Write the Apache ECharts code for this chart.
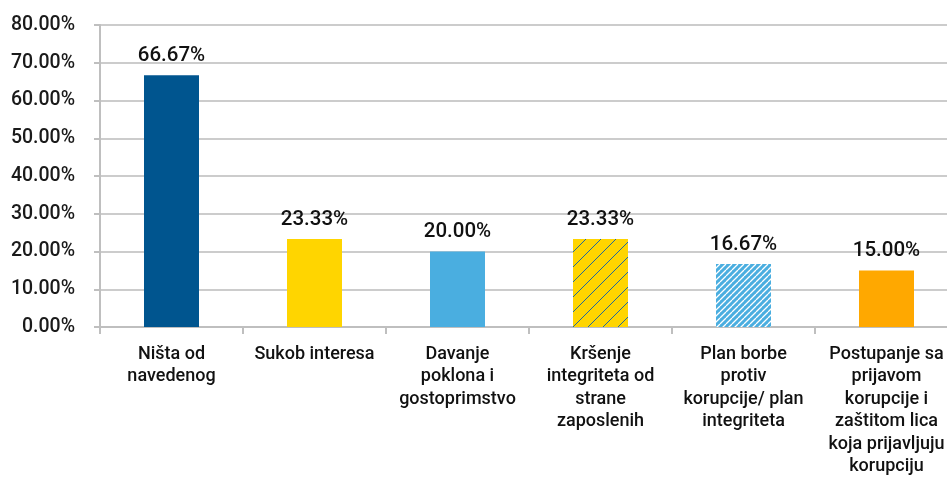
<!DOCTYPE html>
<html>
<head>
<meta charset="utf-8">
<script src="https://cdn.jsdelivr.net/npm/echarts@6/dist/echarts.min.js"></script>
<style>
  html, body { margin: 0; padding: 0; background: #fff; }
  #chart { width: 947px; height: 477px; }
</style>
</head>
<body>
<div id="chart"></div>
<script>
// Categories (line breaks as shown under the axis)
const categories = [
  'Ništa od\nnavedenog',
  'Sukob interesa',
  'Davanje\npoklona i\ngostoprimstvo',
  'Kršenje\nintegriteta od\nstrane\nzaposlenih',
  'Plan borbe\nprotiv\nkorupcije/ plan\nintegriteta',
  'Postupanje sa\nprijavom\nkorupcije i\nzaštitom lica\nkoja prijavljuju\nkorupciju'
];
// Share of respondents, in percent
const values = [66.67, 23.33, 20.00, 23.33, 16.67, 15.00];
// Y axis range and step
const yMin = 0;
const yMax = 80;
const yStep = 10;

// Diagonal hatch pattern on a small tile
function hatch(bg, line, size, lineWidth) {
  const c = document.createElement('canvas');
  c.width = size; c.height = size;
  const g = c.getContext('2d');
  g.fillStyle = bg;
  g.fillRect(0, 0, size, size);
  g.strokeStyle = line;
  g.lineWidth = lineWidth;
  g.beginPath();
  for (let k = -1; k <= 1; k++) {
    g.moveTo(k * size, size);
    g.lineTo(k * size + size, 0);
  }
  g.stroke();
  return { image: c, repeat: 'repeat' };
}

const fills = [
  '#00558F',
  '#FFD500',
  '#4AAEE0',
  hatch('#FFD500', '#1F6A9A', 15, 1),
  hatch('#4AAEE0', '#FFFFFF', 6, 1.3),
  '#FFA800'
];

const chart = echarts.init(document.getElementById('chart'), null, { renderer: 'canvas' });
chart.setOption({
  animation: false,
  backgroundColor: '#ffffff',
  grid: {
    left: 100, top: 25, width: 858, height: 302,
    containLabel: false,
    outerBoundsMode: 'none'
  },
  xAxis: {
    type: 'category',
    data: categories,
    axisLine: { lineStyle: { color: '#bfbfbf', width: 2 } },
    axisTick: { show: true, length: 7, lineStyle: { color: '#bfbfbf', width: 2 } },
    axisLabel: {
      interval: 0,
      margin: 16,
      fontFamily: 'Roboto',
      fontSize: 18,
      fontWeight: 500,
      color: '#111',
      lineHeight: 22.5,
      align: 'center'
    }
  },
  yAxis: {
    type: 'value',
    min: yMin,
    max: yMax,
    interval: yStep,
    axisLine: { show: true, lineStyle: { color: '#bfbfbf', width: 2 } },
    axisTick: { show: true, length: 6, lineStyle: { color: '#bfbfbf', width: 2 } },
    splitLine: { lineStyle: { color: '#cccccc', width: 2 } },
    axisLabel: {
      margin: 25,
      fontFamily: 'Roboto',
      fontSize: 19.5,
      fontWeight: 500,
      color: '#1a1a1a',
      formatter: v => v.toFixed(2) + '%'
    }
  },
  series: [{
    type: 'bar',
    barWidth: 55,
    data: values.map((v, i) => ({ value: v, itemStyle: { color: fills[i] } })),
    label: {
      show: true,
      position: 'top',
      distance: 9,
      fontFamily: 'Roboto',
      fontSize: 20.5,
      fontWeight: 500,
      color: '#111',
      formatter: p => p.value.toFixed(2) + '%'
    }
  }]
});
</script>
</body>
</html>
